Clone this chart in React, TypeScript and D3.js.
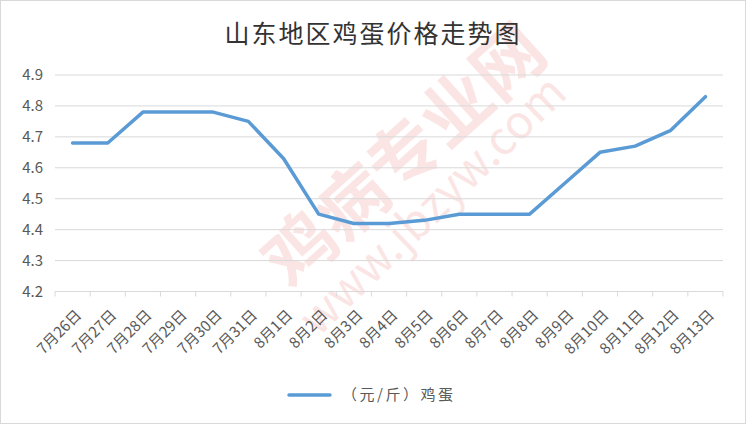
import * as d3 from "d3";

const title = "山东地区鸡蛋价格走势图";
const seriesName = "（元/斤）鸡蛋";
const dates = [
    "7月26日", "7月27日", "7月28日", "7月29日", "7月30日", "7月31日",
    "8月1日", "8月2日", "8月3日", "8月4日", "8月5日", "8月6日", "8月7日", "8月8日",
    "8月9日", "8月10日", "8月11日", "8月12日", "8月13日",
];
const prices = [
    4.68, 4.68, 4.78, 4.78, 4.78, 4.75,
    4.63, 4.45, 4.42, 4.42, 4.43, 4.45, 4.45, 4.45,
    4.55, 4.65, 4.67, 4.72, 4.83,
];
const yTicks = [4.2, 4.3, 4.4, 4.5, 4.6, 4.7, 4.8, 4.9];

const App: React.FC = () => {
    const width = 746;
    const height = 425;
    const marginLeft = 55;
    const marginRight = 23;
    const marginTop = 75;
    const plotBottom = 291.5;
    const font = "'Noto Sans CJK SC', 'Noto Sans', sans-serif";

    const x = d3.scaleBand(dates, [marginLeft, width - marginRight]);
    const y = d3.scaleLinear([4.2, 4.9], [plotBottom, marginTop]);
    const line = d3.line<number>((_, i) => x(dates[i])! + x.bandwidth() / 2, y);
    const tickXs = [...dates.map((d) => x(d)!), width - marginRight];

    return (
        <div style={{ position: "fixed", left: 0, top: 0 }}>
            <svg width={width} height={height} style={{ display: "block", background: "#fff" }}>
                <rect x={0.5} y={0.5} width={width - 1} height={height - 2} fill="#fff" stroke="#d9d9d9" />
                {/* watermark */}
                <g fill="#e8574f" opacity={0.15} fontFamily={font}>
                    <text transform="translate(291,291) rotate(-42)" fontSize={70} fontWeight={700}>鸡病专业网</text>
                    <text transform="translate(318,338) rotate(-44)" fontSize={46}>www.jbzyw.com</text>
                </g>
                <text
                    x={width / 2}
                    y={43}
                    textAnchor="middle"
                    fontFamily="'Noto Sans CJK SC', serif"
                    fontSize={25}
                    letterSpacing={2}
                    fill="#333"
                >
                    {title}
                </text>
                <g>
                    {yTicks.map((t) => (
                        <g key={t}>
                            {t > 4.2 && (
                                <line x1={marginLeft} x2={width - marginRight} y1={y(t)} y2={y(t)} stroke="#d9d9d9" strokeWidth={1} />
                            )}
                            <text x={43} y={y(t)} dy="0.35em" textAnchor="end" fontFamily={font} fontSize={15} fill="#595959">
                                {d3.format(".1f")(t)}
                            </text>
                        </g>
                    ))}
                </g>
                <line x1={marginLeft} x2={width - marginRight} y1={plotBottom} y2={plotBottom} stroke="#d9d9d9" />
                {tickXs.map((tx, i) => (
                    <line key={i} x1={tx} x2={tx} y1={plotBottom} y2={plotBottom + 5} stroke="#d9d9d9" />
                ))}
                {dates.map((d) => {
                    const cx = x(d)! + x.bandwidth() / 2;
                    return (
                        <text
                            key={d}
                            transform={`translate(${cx + 6},${plotBottom + 21}) rotate(-45)`}
                            textAnchor="end"
                            dy="0.35em"
                            fontFamily={font}
                            fontSize={15}
                            fill="#595959"
                        >
                            {d}
                        </text>
                    );
                })}
                <path d={line(prices) ?? undefined} fill="none" stroke="#5b9bd5" strokeWidth={3.5} strokeLinejoin="round" strokeLinecap="round" />
                <line x1={289} x2={330} y1={395} y2={395} stroke="#5b9bd5" strokeWidth={3.5} strokeLinecap="round" />
                <text x={342} y={395} dy="0.35em" fontFamily={font} fontSize={15} fill="#595959" textLength={111}>
                    {seriesName}
                </text>
            </svg>
        </div>
    );
};

export default App;
